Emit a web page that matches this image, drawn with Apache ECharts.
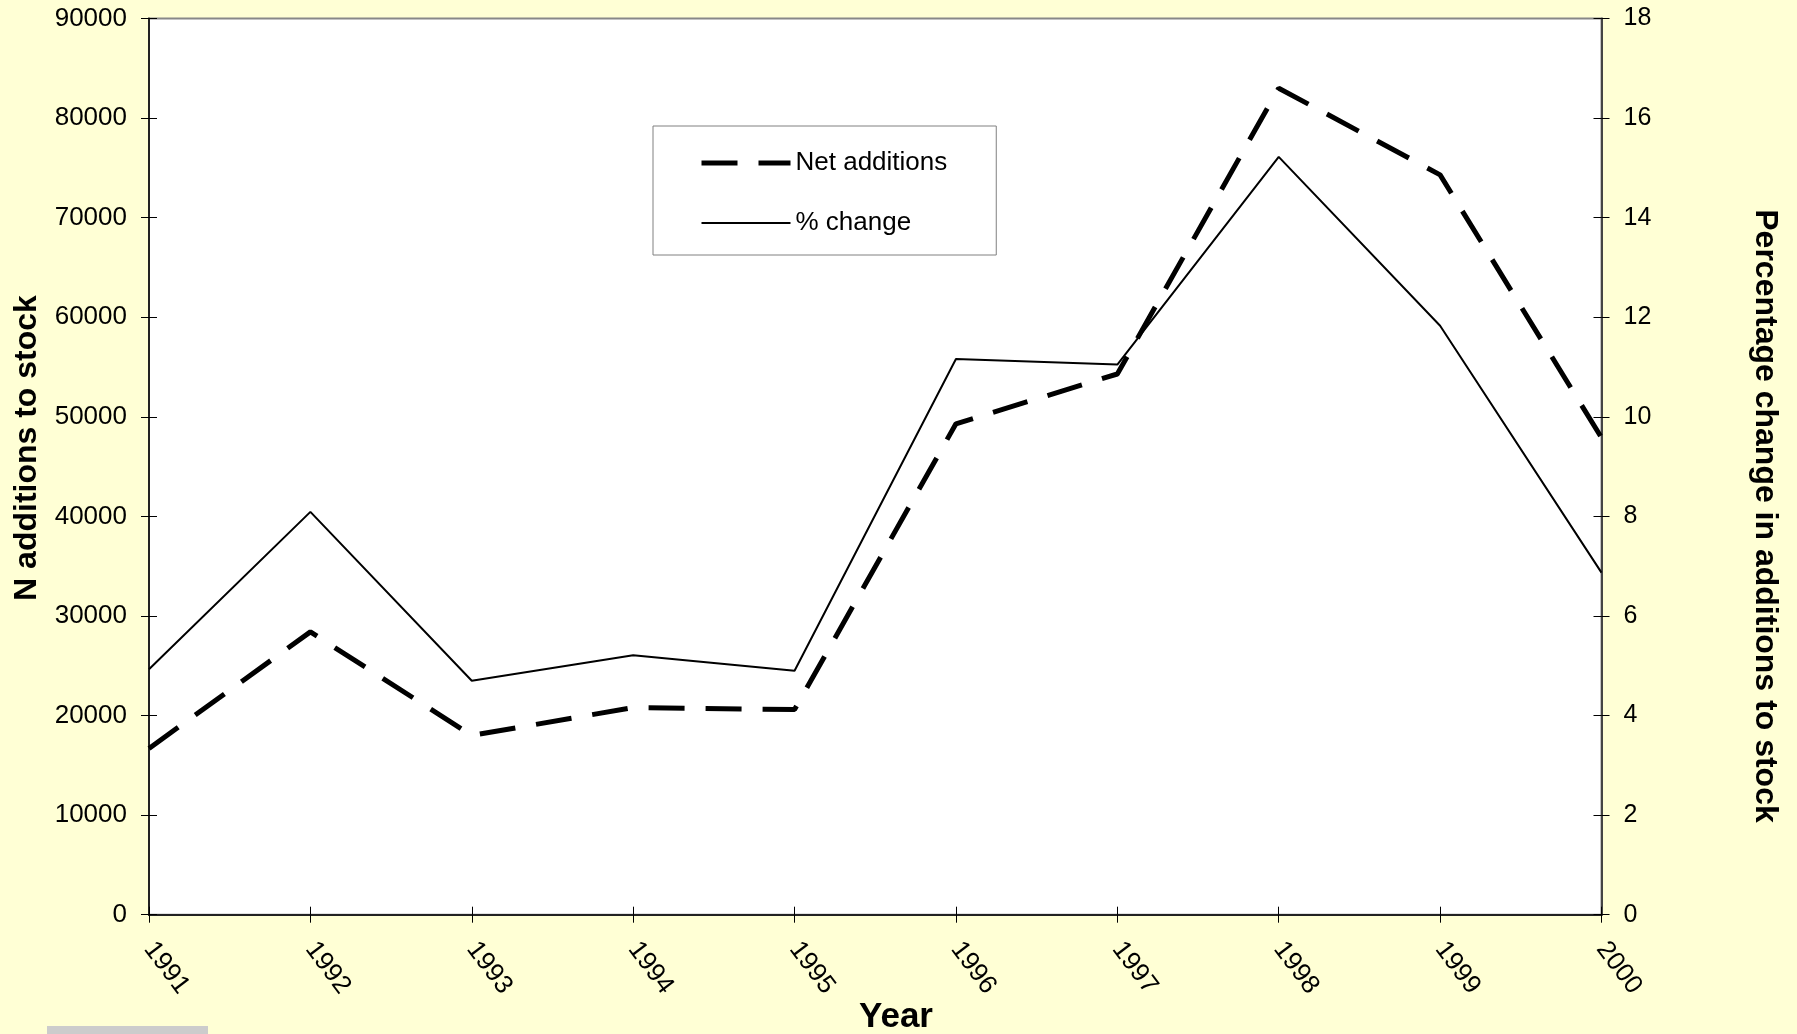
<!DOCTYPE html>
<html>
<head>
<meta charset="utf-8">
<script src="https://cdn.jsdelivr.net/npm/echarts@6/dist/echarts.min.js"></script>
<style>
html, body { margin: 0; padding: 0; background: #FFFFD5; }
#chart { width: 1797px; height: 1034px; }
</style>
</head>
<body>
<div id="chart"></div>
<script>
// years on the x axis
var years = ['1991', '1992', '1993', '1994', '1995', '1996', '1997', '1998', '1999', '2000'];
// net additions to stock (left axis)
var netAdditions = [16700, 28400, 18000, 20800, 20600, 49300, 54300, 83000, 74300, 47900];
// percentage change (right axis)
var pctChange = [4.93, 8.09, 4.70, 5.21, 4.90, 11.16, 11.05, 15.22, 11.83, 6.87];

var leftMax = 90000, leftStep = 10000;
var rightMax = 18, rightStep = 2;

var font = 'Liberation Sans, Arial, sans-serif';
var chart = echarts.init(document.getElementById('chart'));

var tickStyle = { color: '#000', width: 1 };
var plainNumber = function (v) { return String(v); };

var option = {
    animation: false,
    backgroundColor: '#FFFFD5',
    textStyle: { fontFamily: font },
    grid: {
        left: 149,
        right: 195.5,
        top: 18.5,
        bottom: 119.3,
        show: true,
        backgroundColor: '#fff',
        borderColor: '#888',
        borderWidth: 2
    },
    legend: {
        orient: 'vertical',
        left: 653,
        top: 126,
        padding: [24, 49, 19, 46],
        backgroundColor: '#fff',
        borderColor: '#808080',
        borderWidth: 1,
        itemWidth: 89,
        itemHeight: 14,
        itemGap: 34,
        textStyle: { fontSize: 26, color: '#000', fontFamily: font },
        data: [
            {
                name: 'Net additions',
                itemStyle: { opacity: 0 },
                lineStyle: { color: '#000', width: 5, type: [36, 21], cap: 'butt' }
            },
            {
                name: '% change',
                itemStyle: { opacity: 0 },
                lineStyle: { color: '#000', width: 2, type: 'solid' }
            }
        ]
    },
    xAxis: [
        {
            type: 'category',
            data: years,
            boundaryGap: false,
            position: 'bottom',
            axisLine: { lineStyle: { color: '#222', width: 2 } },
            axisTick: { length: 8, lineStyle: tickStyle, interval: 0 },
            axisLabel: { rotate: -53, margin: 30, fontSize: 26, color: '#000', interval: 0, fontFamily: font },
            splitLine: { show: false }
        },
        {
            type: 'category',
            data: years,
            boundaryGap: false,
            position: 'bottom',
            axisLine: { show: false },
            axisTick: { inside: true, length: 8, lineStyle: tickStyle, interval: 0 },
            axisLabel: { show: false },
            splitLine: { show: false }
        }
    ],
    yAxis: [
        {
            type: 'value',
            position: 'left',
            min: 0, max: leftMax, interval: leftStep,
            axisLine: { show: true, lineStyle: { color: '#222', width: 2 } },
            axisTick: { show: true, length: 8, lineStyle: tickStyle },
            axisLabel: { fontSize: 26, color: '#000', margin: 22, fontFamily: font, formatter: plainNumber },
            splitLine: { show: false }
        },
        {
            type: 'value',
            position: 'right',
            min: 0, max: rightMax, interval: rightStep,
            axisLine: { show: true, lineStyle: { color: '#444', width: 2 } },
            axisTick: { show: true, length: 8, lineStyle: tickStyle },
            axisLabel: { fontSize: 25, color: '#000', margin: 22, fontFamily: font, formatter: plainNumber },
            splitLine: { show: false }
        },
        {
            type: 'value',
            position: 'left',
            min: 0, max: leftMax, interval: leftStep,
            axisLine: { show: false },
            axisTick: { show: true, inside: true, length: 8, lineStyle: tickStyle },
            axisLabel: { show: false },
            splitLine: { show: false }
        },
        {
            type: 'value',
            position: 'right',
            min: 0, max: rightMax, interval: rightStep,
            axisLine: { show: false },
            axisTick: { show: true, inside: true, length: 8, lineStyle: tickStyle },
            axisLabel: { show: false },
            splitLine: { show: false }
        }
    ],
    series: [
        {
            name: 'Net additions',
            type: 'line',
            xAxisIndex: 0,
            yAxisIndex: 0,
            data: netAdditions,
            symbol: 'none',
            lineStyle: { color: '#000', width: 5, type: [36, 21] },
            itemStyle: { color: '#000' }
        },
        {
            name: '% change',
            type: 'line',
            xAxisIndex: 0,
            yAxisIndex: 1,
            data: pctChange,
            symbol: 'none',
            lineStyle: { color: '#000', width: 2 },
            itemStyle: { color: '#000' }
        }
    ],
    graphic: [
        {
            type: 'text',
            x: 27, y: 448,
            rotation: Math.PI / 2,
            style: {
                text: 'N additions to stock',
                font: 'bold 32px ' + font,
                fill: '#000',
                align: 'center',
                verticalAlign: 'middle'
            }
        },
        {
            type: 'text',
            x: 1765, y: 516,
            rotation: -Math.PI / 2,
            style: {
                text: 'Percentage change in additions to stock',
                font: 'bold 32px ' + font,
                fill: '#000',
                align: 'center',
                verticalAlign: 'middle'
            }
        },
        {
            type: 'text',
            x: 896, y: 1017,
            style: {
                text: 'Year',
                font: 'bold 35px ' + font,
                fill: '#000',
                align: 'center',
                verticalAlign: 'middle'
            }
        },
        {
            type: 'rect',
            shape: { x: 47, y: 1026, width: 161, height: 8 },
            style: { fill: '#CCCCCC' }
        }
    ]
};

chart.setOption(option);
</script>
</body>
</html>
